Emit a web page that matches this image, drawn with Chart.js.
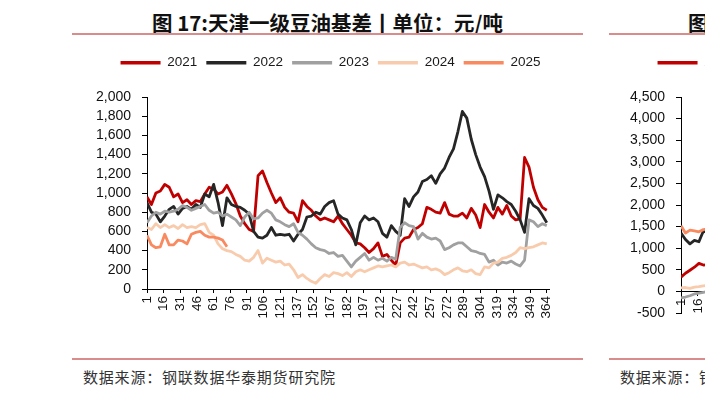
<!DOCTYPE html>
<html>
<head>
<meta charset="utf-8">
<script src="https://cdn.jsdelivr.net/npm/chart.js@4.4.1/dist/chart.umd.min.js"></script>
<style>
  html, body { margin: 0; padding: 0; width: 705px; height: 396px; overflow: hidden; background: #fff; }
  body { position: relative; }
  .block { position: absolute; top: 0; width: 511px; height: 396px; }
  .title { position: absolute; top: 9px; left: 0; width: 511px; text-align: center; white-space: nowrap;
           font: bold 20.5px "Noto Sans CJK SC", sans-serif; line-height: 26px; color: #111; }
  .rule { position: absolute; left: 0; width: 511px; height: 2px; background: #d88c8c; }
  .plot { position: absolute; top: 42px; left: 0; width: 511px; height: 300px; }
  .source { position: absolute; top: 367px; left: 11px; white-space: nowrap;
            font: 15px "Noto Sans CJK SC", sans-serif; line-height: 20px; color: #333; letter-spacing: 0.8px; }
</style>
</head>
<body>
<div class="block" style="left:72px">
  <div class="title">图 17:天津一级豆油基差丨单位：元/吨</div>
  <div class="rule" style="top:33px"></div>
  <div class="plot"><canvas id="chart1" width="511" height="300"></canvas></div>
  <div class="rule" style="top:358px"></div>
  <div class="source">数据来源：钢联数据华泰期货研究院</div>
</div>
<div class="block" style="left:609px">
  <div class="title" style="text-align:left;padding-left:79px">图 18</div>
  <div class="rule" style="top:33px"></div>
  <div class="plot"><canvas id="chart2" width="511" height="300"></canvas></div>
  <div class="rule" style="top:358px"></div>
  <div class="source">数据来源：钢联数据华泰期货研究院</div>
</div>
<script>
// x axis: day-of-year index, a value every 4 positions
const step = 4;
const dayTicks = ['1', '16', '31', '46', '61', '76', '91', '106', '121', '137', '152', '167', '182',
    '197', '212', '227', '242', '257', '272', '289', '304', '319', '334', '349', '364'];
const years = ['2021', '2022', '2023', '2024', '2025'];
const colors = ['#C00000', '#262626', '#A0A0A0', '#F8CBAD', '#F98A60'];

// 天津一级豆油基差
const basis2021 = [960, 880, 1000, 1020, 1090, 1060, 960, 990, 900, 930,
    880, 920, 910, 990, 1060, 1040, 990, 1010, 1080, 990,
    890, 760, 680, 620, 600, 1180, 1230, 1110, 1000, 900,
    950, 850, 800, 790, 700, 920, 860, 820, 760, 720,
    740, 720, 700, 760, 680, 620, 560, 480, 470, 430,
    380, 420, 480, 340, 360, 300, 250, 480, 530, 540,
    620, 640, 680, 850, 830, 800, 790, 900, 780, 760,
    760, 790, 740, 840, 770, 640, 880, 800, 740, 850,
    780, 870, 760, 720, 730, 1370, 1270, 1060, 930, 850,
    820];
const basis2022 = [900, 800, 780, 700, 760, 830, 860, 780, 840, 860,
    830, 880, 850, 990, 960, 1090, 900, 660, 950, 880,
    860, 850, 820, 780, 600, 540, 530, 560, 640, 560,
    570, 560, 570, 500, 570, 620, 750, 760, 800, 780,
    860, 900, 920, 780, 740, 720, 620, 460, 690, 760,
    720, 740, 700, 580, 540, 660, 600, 560, 940, 860,
    960, 1010, 1120, 1140, 1180, 1100, 1200, 1260, 1370, 1460,
    1640, 1850, 1780, 1560, 1400, 1270, 1170, 1020, 830, 980,
    950, 910, 880, 810, 720, 590, 940, 870, 840, 770,
    690];
const basis2023 = [690, 760, 800, 780, 810, 800, 810, 830, 870, 850,
    820, 840, 860, 880, 820, 790, 800, 760, 780, 750,
    720, 660, 750, 800, 730, 740, 790, 820, 790, 720,
    700, 670, 650, 680, 590, 560, 520, 470, 430, 410,
    400, 370, 380, 340, 350, 290, 230, 290, 330, 370,
    300, 330, 300, 320, 290, 330, 310, 640, 690, 660,
    650, 520, 580, 540, 520, 530, 500, 410, 430, 460,
    480, 480, 440, 400, 390, 370, 360, 280, 300, 250,
    280, 270, 290, 260, 240, 300, 720, 700, 650, 680,
    660];
const basis2024 = [640, 620, 680, 640, 670, 640, 660, 630, 670, 640,
    650, 640, 670, 680, 590, 560, 470, 420, 400, 390,
    360, 340, 300, 290, 330, 400, 270, 320, 300, 280,
    290, 250, 260, 200, 120, 150, 110, 80, 60, 110,
    150, 130, 170, 160, 140, 170, 130, 180, 200, 180,
    200, 220, 240, 230, 240, 250, 230, 270, 280, 250,
    260, 240, 220, 230, 200, 210, 190, 150, 170, 200,
    220, 190, 180, 200, 160, 150, 230, 220, 270, 280,
    320, 330, 350, 380, 430, 420, 430, 440, 460, 480,
    470];
const basis2025 = [560, 460, 430, 440, 570, 460, 460, 510, 500, 470,
    570, 590, 600, 560, 540, 540, 530, 510, 440];

// second figure, only its first days are inside the picture
const spread2021 = [330, 420, 490, 560, 650, 610, 620];
const spread2022 = [1350, 1200, 1100, 1180, 1150, 1400, 1350];
const spread2023 = [-150, -130, -100, -60, -40, -20, 0];
const spread2024 = [80, 90, 70, 100, 110, 130, 140];
const spread2025 = [1520, 1350, 1420, 1400, 1380, 1430, 1450];

const fontFamily = 'Arial, "Liberation Sans", sans-serif';

// fixed legend band, then nudge the legend to where the picture has it
const fixLegend = {
    id: 'fixLegend',
    beforeLayout(chart) {
        const lg = chart.legend;
        if (lg && !lg._fixed) {
            const fit = lg.fit;
            lg.fit = function () { fit.call(this); this.height = 55; };
            lg._fixed = true;
        }
    },
    afterLayout(chart) {
        const lg = chart.legend;
        lg.left += 20;
        lg.right += 20;
        lg.top += 5;
        lg.bottom += 5;
    }
};

function makeChart(id, seriesList, yMin, yMax, yStep, axisWidth, xOpts, bottomPad) {
    const datasets = seriesList.map((vals, k) => ({
        label: years[k],
        data: vals.map((v, i) => ({ x: i * step, y: v })),
        borderColor: colors[k],
        backgroundColor: colors[k],
        borderWidth: 2.8,
        borderJoinStyle: 'round',
        pointRadius: 0,
        tension: 0,
        order: 5 - k
    }));
    new Chart(document.getElementById(id), {
        type: 'line',
        data: { datasets: datasets },
        plugins: [fixLegend],
        options: {
            responsive: false,
            animation: false,
            devicePixelRatio: 1,
            layout: { padding: { left: 0, right: 34, top: 0, bottom: bottomPad } },
            plugins: {
                tooltip: { enabled: false },
                legend: {
                    position: 'top',
                    reverse: true,
                    labels: {
                        boxWidth: 40,
                        boxHeight: 3.5,
                        padding: 9,
                        color: '#1a1a1a',
                        font: { family: fontFamily, size: 13.5 },
                        generateLabels(chart) {
                            return Chart.defaults.plugins.legend.labels.generateLabels(chart)
                                .map(item => Object.assign(item, { lineWidth: 0 }));
                        }
                    }
                }
            },
            scales: {
                x: Object.assign({
                    type: 'linear',
                    min: 0,
                    max: 362,
                    afterBuildTicks(scale) {
                        scale.ticks = dayTicks.map((d, i) => ({ value: i * 15 }));
                    },
                    ticks: {
                        autoSkip: false,
                        minRotation: 90,
                        maxRotation: 90,
                        padding: 3,
                        color: '#111',
                        font: { family: fontFamily, size: 13.5 },
                        callback: (v, i) => dayTicks[i]
                    },
                    grid: { drawOnChartArea: false, drawTicks: true, tickLength: 4, tickColor: '#000' },
                    border: { display: true, color: '#000', width: 1 }
                }, xOpts),
                y: {
                    type: 'linear',
                    min: yMin,
                    max: yMax,
                    afterFit(scale) { scale.width = axisWidth; },
                    ticks: {
                        stepSize: yStep,
                        autoSkip: false,
                        padding: 11,
                        color: '#111',
                        font: { family: fontFamily, size: 14 },
                        callback: v => v.toLocaleString('en-US')
                    },
                    grid: { drawOnChartArea: false, drawTicks: true, tickLength: 5, tickColor: '#000' },
                    border: { display: true, color: '#000', width: 1 }
                }
            }
        }
    });
}

document.addEventListener('DOMContentLoaded', function () {
    makeChart('chart1',
        [basis2021, basis2022, basis2023, basis2024, basis2025],
        0, 2000, 200, 75,
        { afterFit(scale) { scale.height = 53; } },
        0);
    makeChart('chart2',
        [spread2021, spread2022, spread2023, spread2024, spread2025],
        -500, 4500, 500, 72,
        { position: { y: 0 } },
        29);
});
</script>
</body>
</html>
